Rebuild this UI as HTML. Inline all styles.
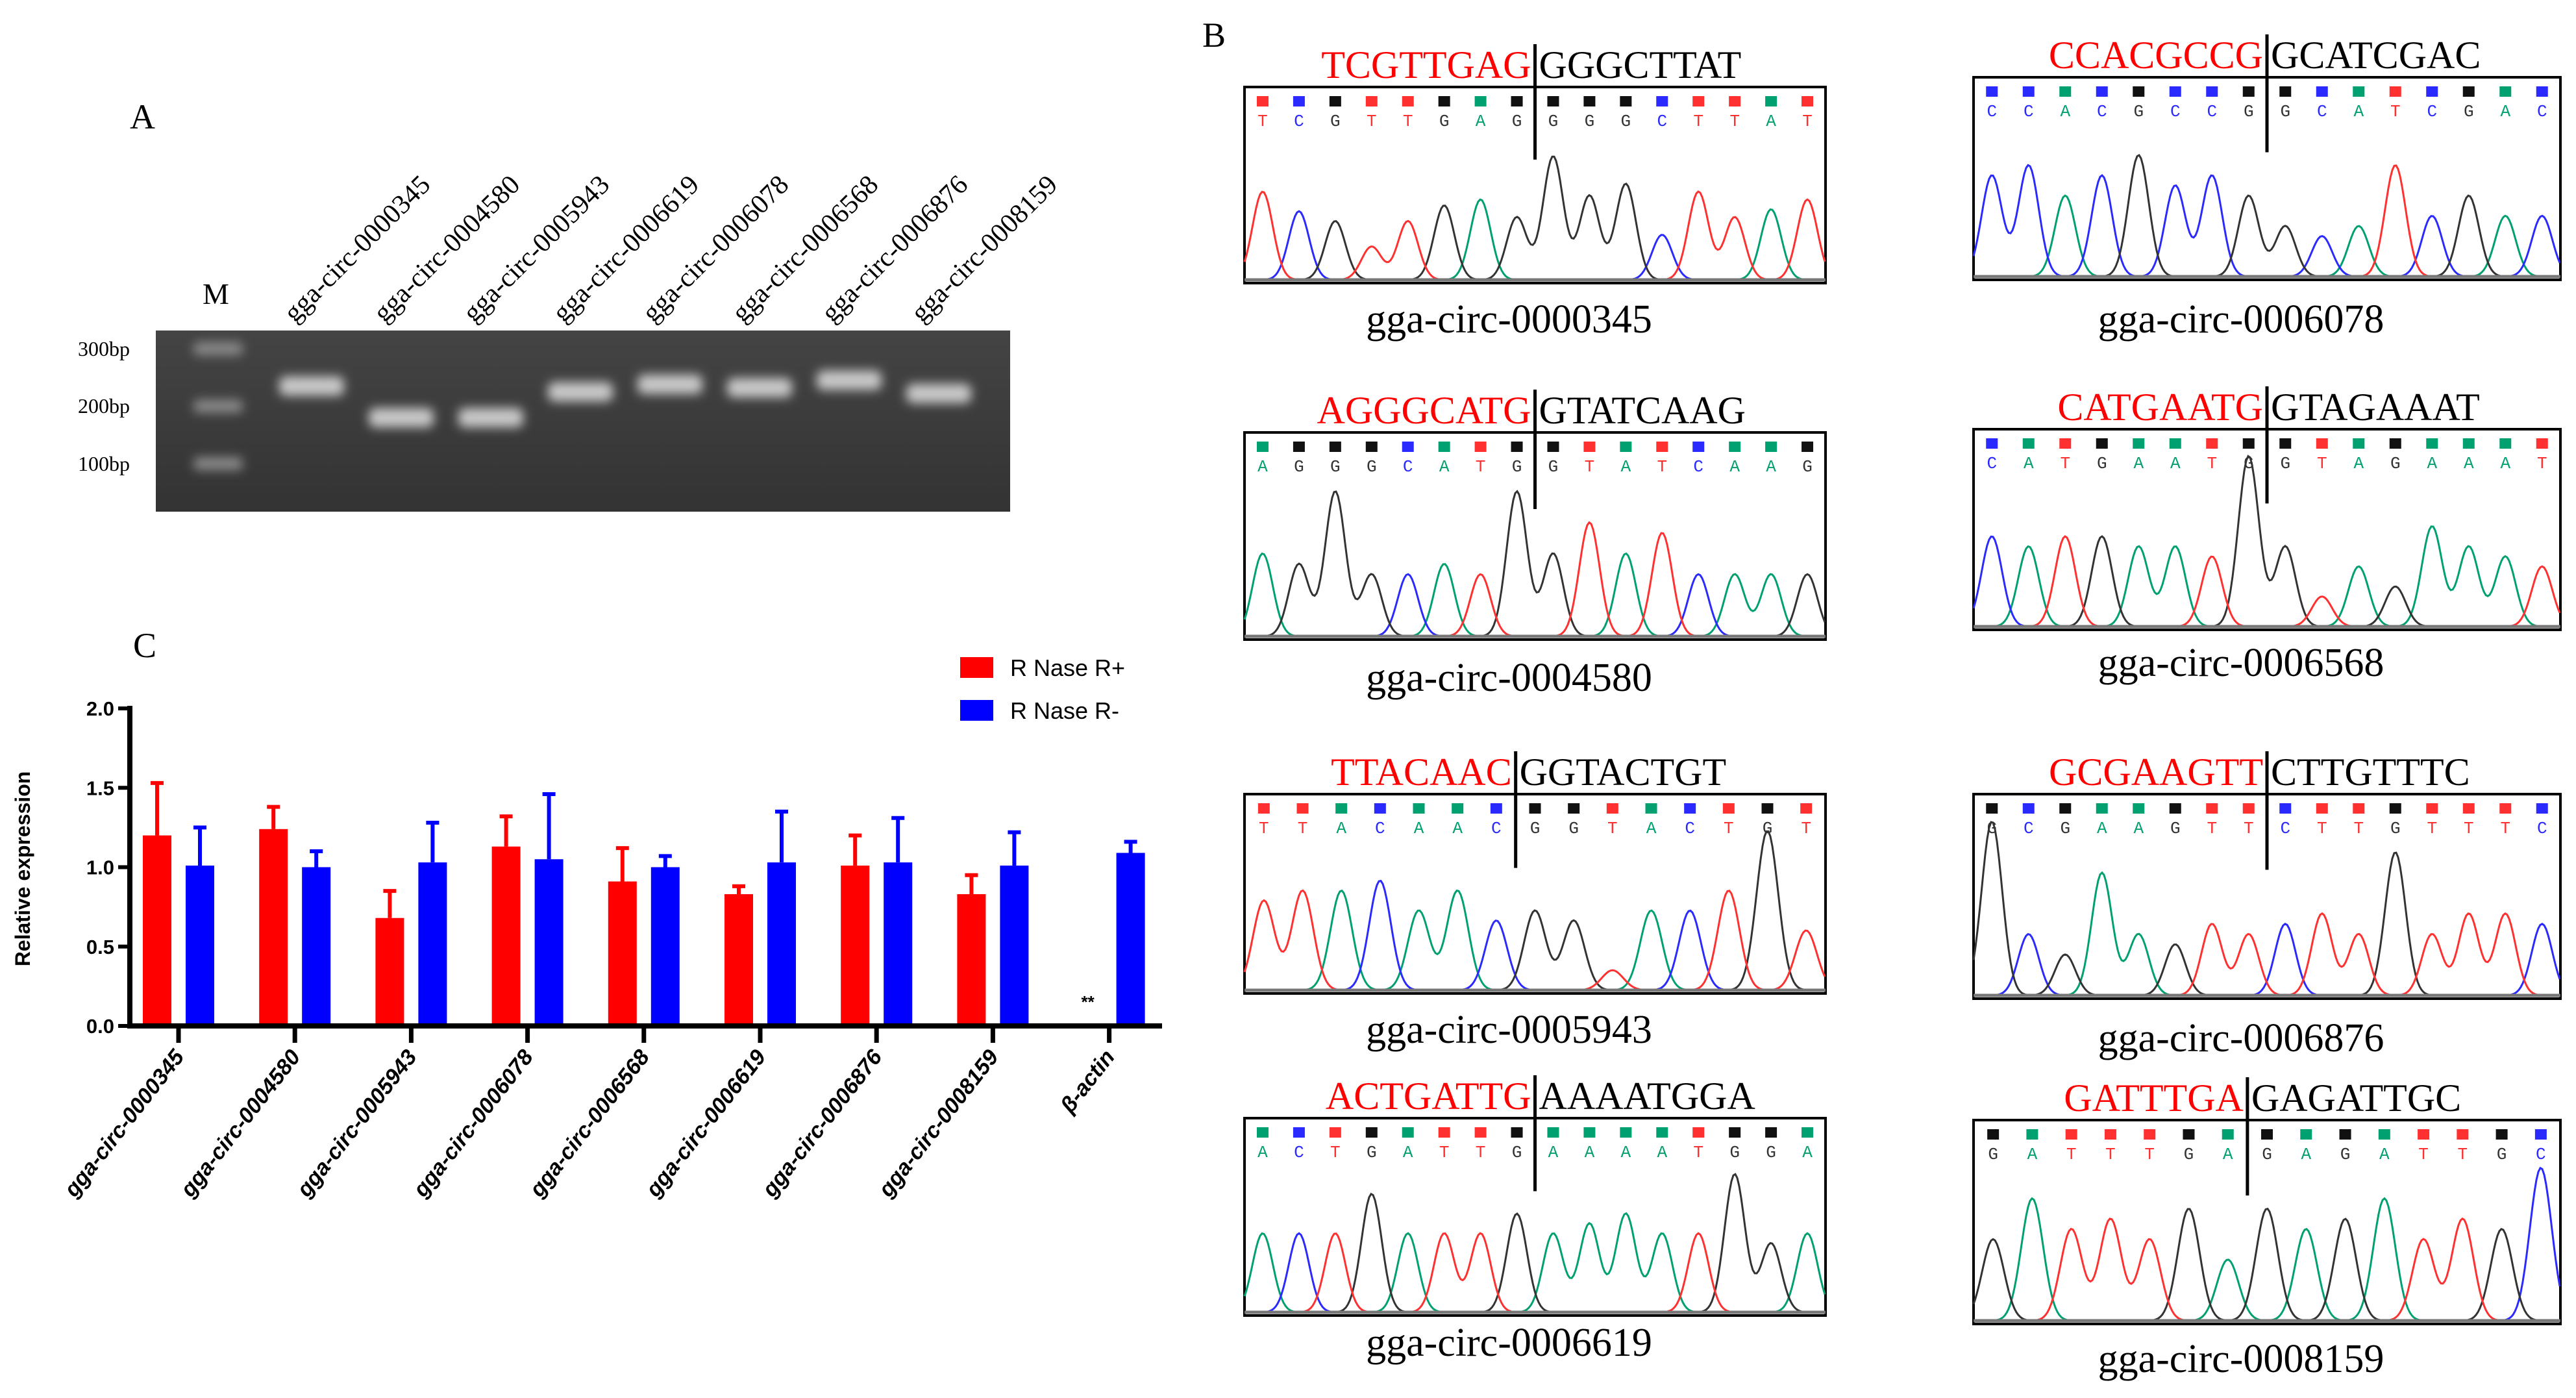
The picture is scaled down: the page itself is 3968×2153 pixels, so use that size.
<!DOCTYPE html>
<html><head><meta charset="utf-8"><style>
html,body{margin:0;padding:0;background:#fff}
svg{display:block}
</style></head><body>
<svg id="fig" xmlns="http://www.w3.org/2000/svg" width="3968" height="2153" viewBox="0 0 3968 2153">
<defs>
<filter id="blur" x="-50%" y="-100%" width="200%" height="300%"><feGaussianBlur stdDeviation="8"/></filter>
<linearGradient id="gelg" x1="0" y1="0" x2="0" y2="1"><stop offset="0" stop-color="#444"/><stop offset="1" stop-color="#333"/></linearGradient>
</defs>
<rect width="3968" height="2153" fill="#fff"/>
<g id="panelA">
<text x="200" y="198" font-family="Liberation Serif, serif" font-size="54">A</text>
<rect x="240" y="509" width="1316" height="279" fill="url(#gelg)"/>
<text x="312" y="468" font-family="Liberation Serif, serif" font-size="46">M</text>
<text x="120" y="548" font-family="Liberation Serif, serif" font-size="32">300bp</text>
<text x="120" y="636" font-family="Liberation Serif, serif" font-size="32">200bp</text>
<text x="120" y="725" font-family="Liberation Serif, serif" font-size="32">100bp</text>
<g id="gelBands"></g>
<g id="laneLabels"></g>
</g>
<text x="1852" y="72" font-family="Liberation Serif, serif" font-size="54">B</text>
<g id="panelB"></g>
<g id="panelC">
<text x="205" y="1012" font-family="Liberation Serif, serif" font-size="54">C</text>
<g id="chart"></g>
</g>
</svg>
<script>
// ---------- Panel C data ----------
const categories = ["gga-circ-0000345","gga-circ-0004580","gga-circ-0005943","gga-circ-0006078","gga-circ-0006568","gga-circ-0006619","gga-circ-0006876","gga-circ-0008159","β-actin"];
const rnasePlus = [1.20,1.24,0.68,1.13,0.91,0.83,1.01,0.83,0];
const rnasePlusErr = [0.33,0.14,0.17,0.19,0.21,0.05,0.19,0.12,0];
const rnaseMinus = [1.01,1.00,1.03,1.05,1.00,1.03,1.03,1.01,1.09];
const rnaseMinusErr = [0.24,0.10,0.25,0.41,0.07,0.32,0.28,0.21,0.07];
const yTicks = ["0.0","0.5","1.0","1.5","2.0"];
const seriesNames = ["R Nase R+","R Nase R-"];

// ---------- Panel A data ----------
const laneNames = ["gga-circ-0000345","gga-circ-0004580","gga-circ-0005943","gga-circ-0006619","gga-circ-0006078","gga-circ-0006568","gga-circ-0006876","gga-circ-0008159"];
const bandSizes = [235,180,180,225,238,232,245,222];
const ladderSizes = [300,200,100];

// ---------- Panel B data ----------
const chromLeft = ["TCGTTGAG","AGGGCATG","TTACAAC","ACTGATTG","CCACGCCG","CATGAATG","GCGAAGTT","GATTTGA"];
const chromRight = ["GGGCTTAT","GTATCAAG","GGTACTGT","AAAATGGA","GCATCGAC","GTAGAAAT","CTTGTTTC","GAGATTGC"];
const chromNames = ["gga-circ-0000345","gga-circ-0004580","gga-circ-0005943","gga-circ-0006619","gga-circ-0006078","gga-circ-0006568","gga-circ-0006876","gga-circ-0008159"];
const chromHeights = [
 [.45,.35,.30,.17,.30,.38,.41,.32,.63,.43,.49,.23,.45,.32,.36,.41],
 [.40,.35,.70,.30,.30,.35,.30,.70,.40,.55,.40,.50,.30,.30,.30,.30],
 [.45,.50,.50,.55,.40,.50,.35,.40,.35,.10,.40,.40,.50,.80,.30],
 [.40,.40,.40,.60,.40,.40,.40,.50,.40,.45,.50,.40,.40,.70,.35,.40],
 [.50,.55,.40,.50,.60,.45,.50,.40,.25,.20,.25,.55,.30,.40,.30,.30],
 [.45,.40,.45,.45,.40,.40,.35,.85,.40,.15,.30,.20,.50,.40,.35,.30],
 [.85,.30,.20,.60,.30,.25,.35,.30,.35,.40,.30,.70,.30,.40,.40,.35],
 [.40,.60,.45,.50,.40,.55,.30,.55,.45,.50,.60,.40,.50,.45,.75]
];

const NS="http://www.w3.org/2000/svg";
function mk(tag, attrs, parent){const e=document.createElementNS(NS,tag);for(const k in attrs)e.setAttribute(k,attrs[k]);parent.appendChild(e);return e;}

(function(){
 const g=document.getElementById('chart');
 const x0=200, xEnd=1790, y0=1580, yTop=1091, yMax=2.0;
 const ys=v=>y0-(v/yMax)*(y0-yTop);
 const step=179.2, first=275;
 const xs=i=>first+i*step;
 const bw=44, off=33;
 const F='Liberation Sans, Arial, sans-serif';
 categories.forEach((c,i)=>{
  const cx=xs(i);
  if(rnasePlus[i]>0){
   const r=mk('rect',{x:cx-off-bw/2,y:ys(rnasePlus[i]),width:bw,height:y0-ys(rnasePlus[i]),fill:'#ff0000'},g);
   
   
   const e=mk('path',{d:`M${cx-off} ${ys(rnasePlus[i])}V${ys(rnasePlus[i]+rnasePlusErr[i])}M${cx-off-10} ${ys(rnasePlus[i]+rnasePlusErr[i])}H${cx-off+10}`,stroke:'#ff0000','stroke-width':6,fill:'none'},g);
   
   
  } else {
   const t=mk('text',{x:cx-off,y:y0-28,'text-anchor':'middle','font-family':F,'font-size':26,'font-weight':'bold'},g);
   t.textContent='**';
   
   
  }
  const b=mk('rect',{x:cx+off-bw/2,y:ys(rnaseMinus[i]),width:bw,height:y0-ys(rnaseMinus[i]),fill:'#0000ff'},g);
  
  
  const e2=mk('path',{d:`M${cx+off} ${ys(rnaseMinus[i])}V${ys(rnaseMinus[i]+rnaseMinusErr[i])}M${cx+off-10} ${ys(rnaseMinus[i]+rnaseMinusErr[i])}H${cx+off+10}`,stroke:'#0000ff','stroke-width':6,fill:'none'},g);
  
  
  const tk=mk('line',{x1:cx,x2:cx,y1:y0,y2:y0+26,stroke:'#000','stroke-width':7},g);
  
  
  const lb=mk('text',{x:cx+10,y:y0+48,'text-anchor':'end','font-family':F,'font-size':34,'font-weight':'bold','font-style':'italic',transform:`rotate(-52 ${cx+10} ${y0+48})`},g);
  lb.textContent=c;
  
  
 });
 const ya=mk('line',{x1:x0,x2:x0,y1:yTop-4,y2:y0+3,stroke:'#000','stroke-width':8},g);
 
 
 const xa=mk('line',{x1:x0-4,x2:xEnd,y1:y0,y2:y0,stroke:'#000','stroke-width':8},g);
 
 
 yTicks.forEach(t=>{
  const v=parseFloat(t);
  const l=mk('line',{x1:x0-18,x2:x0,y1:ys(v),y2:ys(v),stroke:'#000','stroke-width':6},g);
  
  
  const tx=mk('text',{x:x0-24,y:ys(v)+11,'text-anchor':'end','font-family':F,'font-size':31,'font-weight':'bold'},g);
  tx.textContent=t;
  
  
 });
 const yt=mk('text',{x:46,y:1338,'text-anchor':'middle','font-family':F,'font-size':32,'font-weight':'bold',transform:'rotate(-90 46 1338)'},g);
 yt.textContent='Relative expression';
 
 
 const lc=['#ff0000','#0000ff'];
 seriesNames.forEach((s,i)=>{
  const ly=1012+i*66;
  const r=mk('rect',{x:1479,y:ly,width:51,height:32,fill:lc[i]},g);
  
  
  const t=mk('text',{x:1556,y:ly+29,'font-family':F,'font-size':36},g);
  t.textContent=s;
  
  
 });
})();

(function(){
 const bands=document.getElementById('gelBands');
 const labels=document.getElementById('laneLabels');
 const bpY=bp=>714-(bp-100)*(714-537)/200;
 const laneX=i=>480+i*138;
 ladderSizes.forEach(s=>{
  const r=mk('rect',{x:298,y:bpY(s)-10,width:76,height:20,rx:8,fill:'#8a8a8a',filter:'url(#blur)'},bands);
  
  
 });
 bandSizes.forEach((s,i)=>{
  const r=mk('rect',{x:laneX(i)-50,y:bpY(s)-15,width:100,height:30,rx:10,fill:'#c8c8c8',filter:'url(#blur)'},bands);
  
  
 });
 laneNames.forEach((n,i)=>{
  const x=laneX(i)-26, y=498;
  const t=mk('text',{x:x,y:y,'font-family':'Liberation Serif, serif','font-size':42,transform:`rotate(-45 ${x} ${y})`},labels);
  t.textContent=n;
  
  
 });
})();

(function(){
 const root=document.getElementById('panelB');
 const boxes=[
  [1917,134,895,302,494],[1917,666,895,319,1046],[1917,1223,895,307,1588],[1917,1722,895,304,2070],
  [3040,119,904,312,494],[3040,661,904,309,1023],[3040,1223,904,315,1601],[3040,1725,904,314,2095]
 ];
 const col={A:'#00a070',C:'#2a2aff',G:'#333333',T:'#ff3030'};
 chromNames.forEach((name,p)=>{
  const [bx,by,bw,bh,cy]=boxes[p];
  const g=mk('g',{},root);
  
  
  const seq=(chromLeft[p]+chromRight[p]).split('');
  const n=seq.length, pitch=bw/n;
  const jx=bx+chromLeft[p].length*pitch;
  const h1=mk('text',{x:jx-6,y:by-14,'text-anchor':'end','font-family':'Liberation Serif, serif','font-size':60,fill:'#ff0000'},g);
  h1.textContent=chromLeft[p];
  
  
  const h2=mk('text',{x:jx+6,y:by-14,'font-family':'Liberation Serif, serif','font-size':60,fill:'#000'},g);
  h2.textContent=chromRight[p];
  
  
  const fr=mk('rect',{x:bx,y:by,width:bw,height:bh,fill:'#fff',stroke:'#000','stroke-width':4},g);
  
  
  const jl=mk('line',{x1:jx,x2:jx,y1:by-66,y2:by+bh*0.37,stroke:'#000','stroke-width':5},g);
  
  
  const base=by+bh-5, amp=bh;
  seq.forEach((b,i)=>{
   const cx=bx+(i+0.5)*pitch;
   const sq=mk('rect',{x:cx-9,y:by+14,width:18,height:16,fill:col[b]==='#333333'?'#111':col[b]},g);
   
   
   const t=mk('text',{x:cx,y:by+60,'text-anchor':'middle','font-family':'Liberation Mono, monospace','font-size':26,fill:col[b]},g);
   t.textContent=b;
   
   
  });
  ['A','C','G','T'].forEach(letter=>{
   let d='';
   for(let x=0;x<=bw;x+=3){
    let v=0;
    seq.forEach((b,i)=>{ if(b!==letter)return; const c=(i+0.5)*pitch; const s=pitch*0.28; v+=chromHeights[p][i]*Math.exp(-((x-c)*(x-c))/(2*s*s)); });
    d+=(x===0?'M':'L')+(bx+x).toFixed(1)+' '+(base-v*amp).toFixed(1);
   }
   const pa=mk('path',{d:d,fill:'none',stroke:col[letter],'stroke-width':3},g);
   
   
  });
  const bl=mk('line',{x1:bx,x2:bx+bw,y1:base,y2:base,stroke:'#777','stroke-width':5},g);
  
  
  const cap=mk('text',{x:bx+bw/2-40,y:cy+18,'text-anchor':'middle','font-family':'Liberation Serif, serif','font-size':62},g);
  cap.textContent=name;
  
  
 });
})();
</script>
</body></html>
